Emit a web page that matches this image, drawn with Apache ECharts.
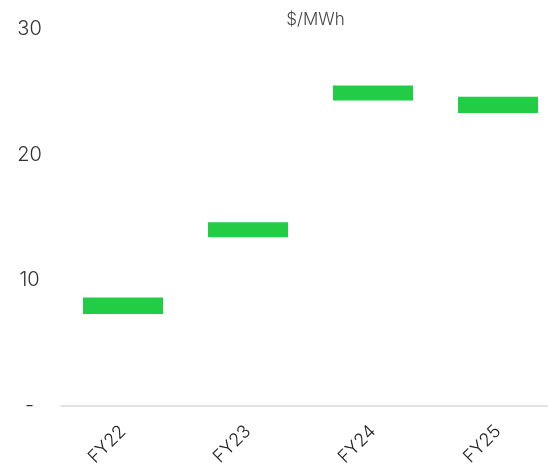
<!DOCTYPE html>
<html>
<head>
<meta charset="utf-8">
<script src="https://cdn.jsdelivr.net/npm/echarts@6/dist/echarts.min.js"></script>
<style>
  html, body { margin: 0; padding: 0; background: #fff; }
  #chart { width: 548px; height: 468px; }
</style>
</head>
<body>
<div id="chart"></div>
<script>
// Fiscal years and the low / high end of each price range ($/MWh)
const years = ['FY22', 'FY23', 'FY24', 'FY25'];
const rangeLow = [7.3, 13.4, 24.3, 23.3];
const rangeHigh = [8.6, 14.6, 25.5, 24.6];
const yTicks = [0, 10, 20, 30];

const FONT = 'Inter, "Noto Sans", sans-serif';
const chart = echarts.init(document.getElementById('chart'));

// plot area runs a little past the right edge of the canvas
const gridLeft = 60.5, gridWidth = 500, gridTop = 29, gridBottom = 62.5;

chart.setOption({
  animation: false,
  title: {
    text: '$/MWh',
    left: gridLeft + gridWidth / 2,
    top: 6,
    textAlign: 'center',
    textStyle: { fontFamily: FONT, fontSize: 17, fontWeight: 300, color: '#444' }
  },
  grid: {
    left: gridLeft, width: gridWidth, top: gridTop, bottom: gridBottom,
    containLabel: false, outerBoundsMode: 'none'
  },
  xAxis: {
    type: 'category',
    data: years,
    axisLine: { show: false },
    axisTick: { show: false },
    axisLabel: {
      rotate: 45,
      margin: 23,
      fontFamily: FONT,
      fontSize: 18,
      fontWeight: 300,
      color: '#222'
    }
  },
  yAxis: {
    type: 'value',
    min: yTicks[0],
    max: yTicks[yTicks.length - 1],
    interval: 10,
    splitLine: { show: false },
    axisLine: { show: false },
    axisTick: { show: false },
    axisLabel: {
      align: 'center',
      margin: 31,
      fontFamily: FONT,
      fontSize: 20,
      fontWeight: 300,
      color: '#333',
      formatter: v => (v === 0 ? '-' : String(v))
    }
  },
  graphic: [{
    type: 'line',
    shape: { x1: gridLeft, y1: 0, x2: 548, y2: 0 },
    y: 468 - gridBottom + 0.5,
    style: { stroke: '#e2e2e2', lineWidth: 2 },
    silent: true
  }],
  series: [
    {
      type: 'bar',
      stack: 'range',
      data: rangeLow,
      barWidth: '64%',
      itemStyle: { color: 'transparent' },
      silent: true
    },
    {
      type: 'bar',
      stack: 'range',
      data: rangeHigh.map((h, i) => +(h - rangeLow[i]).toFixed(2)),
      barWidth: '64%',
      itemStyle: { color: '#22cc44' }
    }
  ]
});
</script>
</body>
</html>
